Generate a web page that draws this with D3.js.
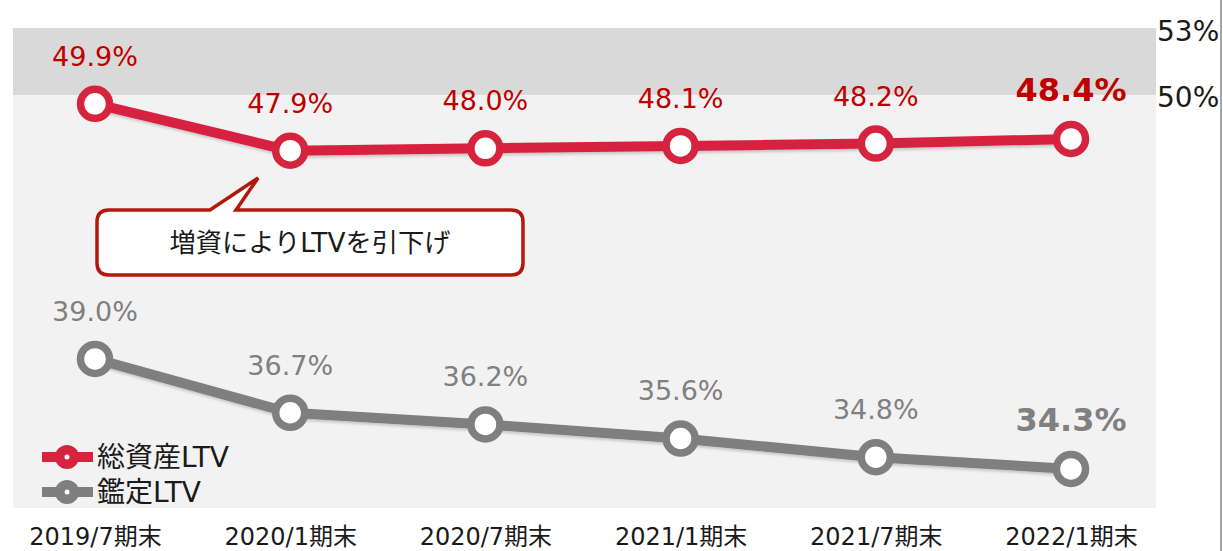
<!DOCTYPE html>
<html><head><meta charset="utf-8">
<script src="https://cdn.jsdelivr.net/npm/d3@7/dist/d3.min.js"></script>
<style>
html,body{margin:0;padding:0;background:#fff;}
svg{display:block;font-family:"DejaVu Sans","Noto Sans CJK JP",sans-serif;}
</style></head>
<body><svg id="chart" width="1223" height="551"></svg>
<script>
const categories = ["2019/7期末","2020/1期末","2020/7期末","2021/1期末","2021/7期末","2022/1期末"];
const totalLTV = [49.9, 47.9, 48.0, 48.1, 48.2, 48.4];
const appraisalLTV = [39.0, 36.7, 36.2, 35.6, 34.8, 34.3];
const seriesNames = ["総資産LTV","鑑定LTV"];
const bandTicks = ["53%","50%"];
const calloutText = "増資によりLTVを引下げ";

const FONT = "\"DejaVu Sans\",\"Noto Sans CJK JP\",sans-serif";
const svg = d3.select("#chart");
const W = 1223, H = 551;
const plot = {left:13, right:1156, top:28, bottom:508};

const x = d3.scalePoint().domain(categories).range([95, 1071]).padding(0);
const y = d3.scaleLinear().domain([32.63, 53.14]).range([plot.bottom, plot.top]);

const red = "#d6243f", gray = "#7f7f7f";

const defs = svg.append("defs");
const f = defs.append("filter").attr("id","sh").attr("x","-10%").attr("y","-10%").attr("width","120%").attr("height","130%");
f.append("feDropShadow").attr("dx",1).attr("dy",2).attr("stdDeviation",1.5).attr("flood-color","#000").attr("flood-opacity",0.2);

// backgrounds
svg.append("rect").attr("x",plot.left).attr("y",plot.top).attr("width",plot.right-plot.left).attr("height",plot.bottom-plot.top).attr("fill","#f2f2f2");
const bandLow = 50.28;
svg.append("rect").attr("x",plot.left).attr("y",plot.top).attr("width",plot.right-plot.left).attr("height",y(bandLow)-plot.top).attr("fill","#d9d9d9");

// right edge line
svg.append("line").attr("x1",1221).attr("x2",1221).attr("y1",0).attr("y2",H).attr("stroke","#a6a6a6").attr("stroke-width",2);

// band tick labels
svg.selectAll("text.bt").data(bandTicks).join("text").attr("class","bt")
  .attr("x",1157).attr("y",(d,i)=> i===0 ? plot.top+13 : y(bandLow)+12)
  .attr("font-size",28).attr("fill","#1a1a1a").text(d=>d);

// callout
(function(){
  const x0=97, x1=523, y0=210, y1=275, r=12;
  const tb0=210, tb1=236, ax=258, ay=178;
  const p = `M${x0+r},${y0} L${tb0},${y0} L${ax},${ay} L${tb1},${y0} L${x1-r},${y0} Q${x1},${y0} ${x1},${y0+r} L${x1},${y1-r} Q${x1},${y1} ${x1-r},${y1} L${x0+r},${y1} Q${x0},${y1} ${x0},${y1-r} L${x0},${y0+r} Q${x0},${y0} ${x0+r},${y0} Z`;
  svg.append("path").attr("d",p).attr("fill","#fff").attr("stroke","#b3180c").attr("stroke-width",3.5).attr("stroke-linejoin","miter");
  svg.append("text").attr("x",(x0+x1)/2).attr("y",(y0+y1)/2).attr("dy","0.36em").attr("text-anchor","middle")
    .attr("font-size",26.3).attr("fill","#1a1a1a").text(calloutText);
})();

const line = d3.line().x((d,i)=>x(categories[i])).y(d=>y(d));

function drawSeries(vals, color, labelColor){
  const g = svg.append("g");
  g.append("path").datum(vals).attr("d",line).attr("fill","none").attr("stroke",color).attr("stroke-width",10).attr("filter","url(#sh)");
  g.selectAll("circle").data(vals).join("circle")
    .attr("cx",(d,i)=>x(categories[i])).attr("cy",d=>y(d)).attr("r",14.5)
    .attr("fill","#fff").attr("stroke",color).attr("stroke-width",7.5);
  g.selectAll("text").data(vals).join("text")
    .attr("x",(d,i)=>x(categories[i])).attr("y",d=>y(d)-38)
    .attr("text-anchor","middle")
    .attr("font-size",(d,i)=> i===vals.length-1 ? 32 : 27)
    .attr("font-weight",(d,i)=> i===vals.length-1 ? "bold" : "normal")
    .attr("fill",labelColor).text(d=>d.toFixed(1)+"%");
}
drawSeries(appraisalLTV, gray, "#808080");
drawSeries(totalLTV, red, "#c00000");

// legend
const legY = [457, 492];
const legColors = [red, gray];
const lg = svg.append("g");
seriesNames.forEach((n,i)=>{
  lg.append("line").attr("x1",42).attr("x2",93).attr("y1",legY[i]).attr("y2",legY[i]).attr("stroke",legColors[i]).attr("stroke-width",10);
  lg.append("circle").attr("cx",67).attr("cy",legY[i]).attr("r",12).attr("fill",legColors[i]);
  lg.append("circle").attr("cx",67).attr("cy",legY[i]).attr("r",2.5).attr("fill","#fff");
  lg.append("text").attr("x",97).attr("y",legY[i]).attr("dy","0.36em").attr("font-size",28).attr("fill","#1a1a1a").text(n);
});

// x axis labels
const xAxis = d3.axisBottom(x).tickSize(0).tickPadding(0);
const ax = svg.append("g").attr("transform",`translate(0,${plot.bottom})`).call(xAxis);
ax.select(".domain").remove();
ax.selectAll("text").attr("font-size",24).attr("fill","#1a1a1a").attr("dy",null).attr("y",37)
  .attr("font-family",FONT);
</script></body></html>
